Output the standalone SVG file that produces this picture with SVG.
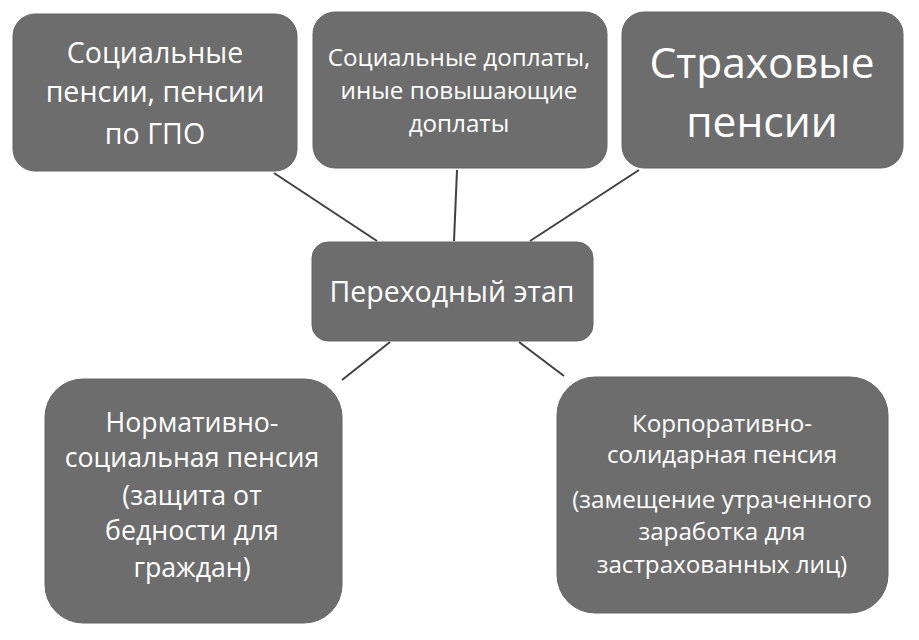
<svg xmlns="http://www.w3.org/2000/svg" width="919" height="640" viewBox="0 0 919 640">
<style>
.box{fill:#6d6d6d;stroke:#646464;stroke-width:1}
.t{fill:#ffffff;font-family:"Open Sans","Liberation Sans",sans-serif;text-anchor:middle}
.ln{stroke:#404040;stroke-width:2;fill:none}
</style>
<rect width="919" height="640" fill="#ffffff"/>
<g id="connectors">
<line class="ln" x1="274" y1="173" x2="377" y2="241"/>
<line class="ln" x1="457" y1="170" x2="454" y2="241"/>
<line class="ln" x1="639" y1="170" x2="530" y2="241"/>
<line class="ln" x1="390" y1="342" x2="342" y2="380"/>
<line class="ln" x1="519" y1="342" x2="564" y2="376"/>
</g>
<g id="node-social">
<rect class="box" x="13" y="14" width="284" height="157" rx="22"/>
<text class="t" font-size="28.6"><tspan x="155" y="63">Социальные</tspan><tspan x="155" y="102">пенсии, пенсии</tspan><tspan x="155" y="144">по ГПО</tspan></text>
</g>
<g id="node-doplaty">
<rect class="box" x="313" y="12" width="294" height="156" rx="22"/>
<text class="t" font-size="24.2"><tspan x="459" y="66">Социальные доплаты,</tspan><tspan x="459" y="99">иные повышающие</tspan><tspan x="459" y="132">доплаты</tspan></text>
</g>
<g id="node-strah">
<rect class="box" x="622" y="12" width="281" height="156" rx="22"/>
<text class="t" font-size="42.5"><tspan x="762" y="78">Страховые</tspan><tspan x="762" y="137">пенсии</tspan></text>
</g>
<g id="node-center">
<rect class="box" x="312" y="242" width="281" height="99" rx="16"/>
<text class="t" font-size="28.5" x="452" y="302">Переходный этап</text>
</g>
<g id="node-normativ">
<rect class="box" x="45" y="379" width="297" height="244" rx="38"/>
<text class="t" font-size="26.7"><tspan x="192" y="432">Нормативно-</tspan><tspan x="192" y="467">социальная пенсия</tspan><tspan x="192" y="505">(защита от</tspan><tspan x="192" y="540">бедности для</tspan><tspan x="192" y="577">граждан)</tspan></text>
</g>
<g id="node-korp">
<rect class="box" x="557" y="377" width="331" height="236" rx="38"/>
<text class="t" font-size="24.2"><tspan x="722" y="432">Корпоративно-</tspan><tspan x="722" y="463">солидарная пенсия</tspan><tspan x="722" y="508">(замещение утраченного</tspan><tspan x="722" y="540">заработка для</tspan><tspan x="722" y="573">застрахованных лиц)</tspan></text>
</g>
</svg>
